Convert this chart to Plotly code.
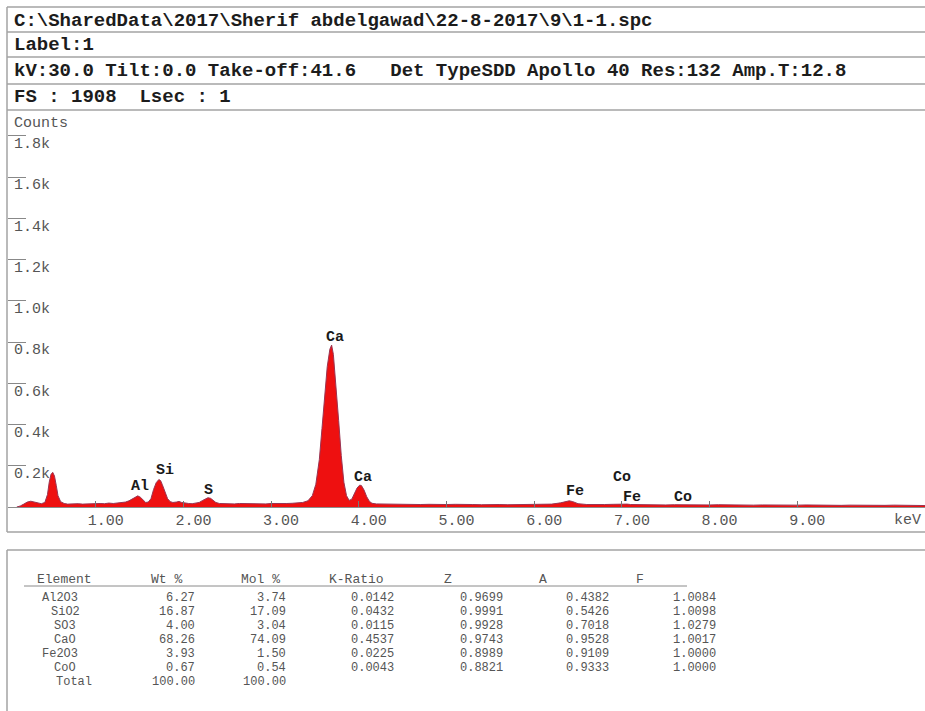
import plotly.graph_objects as go

# ---------------- data ----------------
energy_kev = [
    0.10, 0.14, 0.18, 0.22, 0.26, 0.30, 0.34, 0.38, 0.42, 0.45, 0.47, 0.49, 0.51, 0.53,
    0.55, 0.57, 0.60, 0.64, 0.68, 0.72, 0.76, 0.80, 0.85, 0.90, 0.95, 1.00, 1.05, 1.10,
    1.15, 1.20, 1.25, 1.30, 1.34, 1.38, 1.42, 1.45, 1.48, 1.51, 1.54, 1.57, 1.60, 1.63,
    1.66, 1.69, 1.72, 1.74, 1.76, 1.79, 1.82, 1.85, 1.88, 1.92, 1.95, 1.98, 2.02, 2.06,
    2.10, 2.14, 2.18, 2.22, 2.25, 2.28, 2.31, 2.34, 2.37, 2.41, 2.46, 2.52, 2.58, 2.64,
    2.70, 2.76, 2.82, 2.88, 2.94, 3.00, 3.06, 3.12, 3.18, 3.24, 3.30, 3.36, 3.42, 3.47,
    3.51, 3.55, 3.58, 3.61, 3.64, 3.67, 3.69, 3.71, 3.74, 3.77, 3.80, 3.83, 3.86, 3.89,
    3.92, 3.95, 3.98, 4.01, 4.03, 4.06, 4.09, 4.12, 4.15, 4.20, 4.28, 4.36, 4.44, 4.52,
    4.60, 4.70, 4.80, 4.90, 5.00, 5.10, 5.20, 5.30, 5.40, 5.50, 5.60, 5.70, 5.80, 5.90,
    6.00, 6.10, 6.20, 6.30, 6.36, 6.40, 6.44, 6.50, 6.60, 6.70, 6.80, 6.90, 6.95, 7.00,
    7.06, 7.10, 7.20, 7.30, 7.40, 7.50, 7.60, 7.70, 7.80, 7.90, 8.00, 8.10, 8.20, 8.30,
    8.40, 8.50, 8.60, 8.70, 8.80, 8.90, 9.00, 9.10, 9.20, 9.30, 9.40, 9.50, 9.60, 9.70,
    9.80, 9.90, 10.00, 10.10, 10.20, 10.30, 10.40, 10.46,
]
counts = [
    0, 5, 14, 24, 28, 25, 19, 16, 22, 60, 120, 158, 168, 150,
    105, 55, 26, 17, 14, 15, 13, 16, 14, 15, 17, 15, 17, 16,
    19, 17, 20, 21, 24, 30, 40, 50, 54, 47, 32, 22, 24, 40,
    85, 118, 133, 128, 108, 72, 40, 26, 22, 24, 27, 22, 18, 17,
    16, 18, 22, 32, 40, 45, 42, 32, 22, 17, 16, 18, 15, 17,
    16, 15, 17, 16, 15, 17, 16, 15, 17, 18, 19, 22, 30, 55,
    110, 230, 380, 530, 680, 765, 785, 740, 600, 420, 250, 120, 55, 32,
    38, 65, 92, 106, 104, 82, 50, 28, 18, 15, 14, 13, 14, 12,
    13, 12, 13, 11, 12, 13, 11, 12, 11, 13, 12, 11, 12, 13,
    12, 13, 14, 20, 26, 30, 26, 16, 12, 11, 12, 13, 14, 12,
    14, 12, 11, 12, 11, 10, 11, 10, 11, 10, 10, 11, 10, 9,
    10, 9, 10, 9, 10, 9, 9, 10, 9, 8, 9, 8, 9, 8,
    9, 8, 8, 9, 8, 8, 7, 7,
]

peak_labels = ["Al", "Si", "S", "Ca", "Ca", "Fe", "Co", "Fe", "Co"]
peak_label_kev = [1.51, 1.79, 2.29, 3.73, 4.05, 6.46, 7.00, 7.11, 7.70]
peak_label_counts = [97, 175, 78, 820, 145, 73, 141, 48, 46]

x_tick_vals = [1, 2, 3, 4, 5, 6, 7, 8, 9]
x_tick_text = ["1.00", "2.00", "3.00", "4.00", "5.00", "6.00", "7.00", "8.00", "9.00"]
y_tick_vals = [200, 400, 600, 800, 1000, 1200, 1400, 1600, 1800]
y_tick_text = ["0.2k", "0.4k", "0.6k", "0.8k", "1.0k", "1.2k", "1.4k", "1.6k", "1.8k"]

header_lines = [
    "C:\\SharedData\\2017\\Sherif abdelgawad\\22-8-2017\\9\\1-1.spc",
    "Label:1",
    "kV:30.0 Tilt:0.0 Take-off:41.6   Det TypeSDD Apollo 40 Res:132 Amp.T:12.8",
    "FS : 1908  Lsec : 1",
]

table_columns = ["Element", "Wt %", "Mol %", "K-Ratio", "Z", "A", "F"]
table_elements = ["Al2O3", "SiO2", "SO3", "CaO", "Fe2O3", "CoO", "Total"]
wt_pct = [6.27, 16.87, 4.00, 68.26, 3.93, 0.67, 100.00]
mol_pct = [3.74, 17.09, 3.04, 74.09, 1.50, 0.54, 100.00]
k_ratio = [0.0142, 0.0432, 0.0115, 0.4537, 0.0225, 0.0043]
z_factor = [0.9699, 0.9991, 0.9928, 0.9743, 0.8989, 0.8821]
a_factor = [0.4382, 0.5426, 0.7018, 0.9528, 0.9109, 0.9333]
f_factor = [1.0084, 1.0098, 1.0279, 1.0017, 1.0000, 1.0000]

# ---------------- layout helpers (pixel -> paper) ----------------
W, H = 925, 711
def fx(p):
    return p / W
def fy(p):
    return 1 - p / H

MONO = "Liberation Mono"
GRID = "#a3a3a3"
TXT = "#555555"
TABLE_SIZE = 12

fig = go.Figure()
fig.add_trace(go.Scatter(
    x=energy_kev, y=counts, mode="lines", fill="tozeroy",
    fillcolor="#ee1010", line=dict(color="#9a3452", width=1),
    hoverinfo="skip", showlegend=False,
))

annotations = []
# peak labels
for lab, xk, yc in zip(peak_labels, peak_label_kev, peak_label_counts):
    annotations.append(dict(x=xk, y=yc, xref="x", yref="y", text=lab, showarrow=False,
                            font=dict(family=MONO, size=15, color="#1a1a1a", weight="bold"),
                            xanchor="center", yanchor="middle"))

# header rows
header_y = [21, 45, 71, 97]
for t, yy in zip(header_lines, header_y):
    annotations.append(dict(x=fx(12), y=fy(yy), xref="paper", yref="paper", text=t,
                            showarrow=False, xanchor="left", yanchor="middle",
                            font=dict(family=MONO, size=19, color="#1c1c1c", weight="bold")))

# axis captions
annotations.append(dict(x=fx(12), y=fy(123), xref="paper", yref="paper", text="Counts",
                        showarrow=False, xanchor="left", yanchor="middle",
                        font=dict(family=MONO, size=15, color=TXT)))
annotations.append(dict(x=fx(923), y=fy(520), xref="paper", yref="paper", text="keV",
                        showarrow=False, xanchor="right", yanchor="middle",
                        font=dict(family=MONO, size=15, color=TXT)))

# table header
col_head_x = [64, 166, 260, 356, 448, 543, 640]
for name, cx in zip(table_columns, col_head_x):
    annotations.append(dict(x=fx(cx), y=fy(579), xref="paper", yref="paper", text=name,
                            showarrow=False, xanchor="center", yanchor="middle",
                            font=dict(family=MONO, size=TABLE_SIZE + 1, color=TXT)))

row_y = [598, 612, 626, 640, 654, 668, 682]
elem_cx = [60, 65, 65, 65, 60, 65, 74]
col_right = [197, 288, 396, 505, 611, 718]
numeric_cols = [
    [f"{v:.2f}" for v in wt_pct],
    [f"{v:.2f}" for v in mol_pct],
    [f"{v:.4f}" for v in k_ratio],
    [f"{v:.4f}" for v in z_factor],
    [f"{v:.4f}" for v in a_factor],
    [f"{v:.4f}" for v in f_factor],
]
for i, el in enumerate(table_elements):
    annotations.append(dict(x=fx(elem_cx[i]), y=fy(row_y[i]), xref="paper", yref="paper",
                            text=el, showarrow=False, xanchor="center", yanchor="middle",
                            font=dict(family=MONO, size=TABLE_SIZE, color=TXT)))
for col, rx in zip(numeric_cols, col_right):
    for i, val in enumerate(col):
        annotations.append(dict(x=fx(rx), y=fy(row_y[i]), xref="paper", yref="paper",
                                text=val, showarrow=False, xanchor="right", yanchor="middle",
                                font=dict(family=MONO, size=TABLE_SIZE, color=TXT)))

def hline(y, x0=7, x1=925, color=GRID, width=1.5):
    return dict(type="line", xref="paper", yref="paper", x0=fx(x0), x1=fx(x1),
                y0=fy(y), y1=fy(y), line=dict(color=color, width=width))

def vline(x, y0, y1, color=GRID, width=1.5):
    return dict(type="line", xref="paper", yref="paper", x0=fx(x), x1=fx(x),
                y0=fy(y0), y1=fy(y1), line=dict(color=color, width=width))

shapes = [
    hline(7), hline(32), hline(57), hline(84), hline(110),
    vline(7, 7, 532), hline(532),
    hline(550), vline(7, 550, 711),
    hline(586, 24, 687, color="#8a8a8a", width=1),
]

fig.update_layout(
    width=W, height=H,
    margin=dict(l=0, r=0, t=0, b=0),
    paper_bgcolor="white", plot_bgcolor="white",
    showlegend=False,
    xaxis=dict(
        domain=[8 / W, 1], range=[0, 917 / 87.7],
        showline=True, linecolor="#8c8c8c", linewidth=1,
        ticks="inside", ticklen=6, tickcolor="#777777", tickwidth=1,
        tickvals=x_tick_vals, ticktext=x_tick_text,
        tickfont=dict(family=MONO, size=15, color=TXT),
        ticklabelshift=10, ticklabelstandoff=-1,
        showgrid=False, zeroline=False, fixedrange=True,
    ),
    yaxis=dict(
        domain=[1 - 507 / H, 1 - 110 / H], range=[0, 397 / 0.20625],
        showline=False,
        ticks="inside", ticklen=18, tickcolor="#888888", tickwidth=1,
        tickvals=y_tick_vals, ticktext=y_tick_text,
        ticklabelposition="inside bottom",
        ticklabelshift=-4, ticklabelstandoff=3,
        tickfont=dict(family=MONO, size=15, color=TXT),
        showgrid=False, zeroline=False, fixedrange=True,
    ),
    annotations=annotations,
    shapes=shapes,
)

fig.write_html(
    "out.html",
    config={"displayModeBar": False},
    post_script="document.body.style.margin='0px';document.body.style.overflow='hidden';",
)
